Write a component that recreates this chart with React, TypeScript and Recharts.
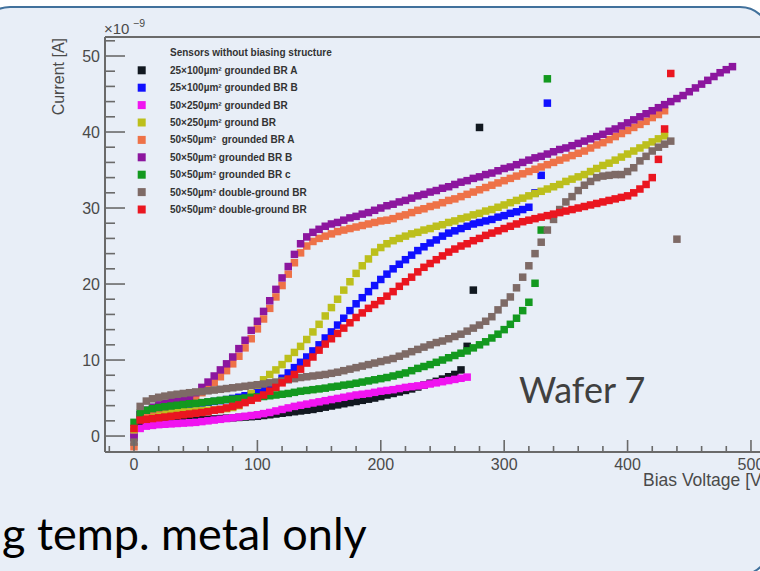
import React from "react"
import { ScatterChart, Scatter, XAxis, YAxis, ReferenceLine } from "recharts"

/* ── measurement grid (bias voltage, V) ── */
const VOLTS = [
  0, 5, 10, 15, 20, 25, 30, 35, 40, 45, 50, 55, 60, 65, 70, 75, 80, 85, 90, 95,
  100, 105, 110, 115, 120, 125, 130, 135, 140, 145, 150, 155, 160, 165, 170, 175, 180, 185, 190, 195,
  200, 205, 210, 215, 220, 225, 230, 235, 240, 245, 250, 255, 260, 265, 270, 275, 280, 285, 290, 295,
  300, 305, 310, 315, 320, 325, 330, 335, 340, 345, 350, 355, 360, 365, 370, 375, 380, 385, 390, 395,
  400, 405, 410, 415, 420, 425, 430, 435, 440, 445, 450, 455, 460, 465, 470, 475, 480, 485,
]

/* ── leakage current per sensor, x1e-9 A ── */
const I_BLACK = [
  0.3, 1.3, 1.5, 1.6, 1.7, 1.8, 1.85, 1.9, 2.0, 2.05,
  2.1, 2.15, 2.2, 2.25, 2.3, 2.35, 2.4, 2.45, 2.5, 2.55,
  2.6, 2.7, 2.8, 2.9, 3.0, 3.1, 3.2, 3.3, 3.4, 3.5,
  3.65, 3.8, 3.95, 4.1, 4.25, 4.4, 4.55, 4.7, 4.85, 5.0,
  5.2, 5.4, 5.6, 5.8, 6.0, 6.2, 6.45, 6.7, 6.95, 7.2,
  7.5, 7.8, 8.1, 8.7, 11.8, 19.2, 40.6,
]
const I_BLUE = [
  0.6, 2.8, 3.2, 3.4, 3.6, 3.7, 3.85, 3.95, 4.05, 4.15,
  4.25, 4.35, 4.45, 4.55, 4.65, 4.8, 4.95, 5.1, 5.3, 5.5,
  5.8, 6.1, 6.5, 7.0, 7.6, 8.3, 9.0, 9.7, 10.4, 11.2,
  12.0, 12.9, 13.7, 14.6, 15.5, 16.5, 17.4, 18.2, 19.0, 19.8,
  20.6, 21.3, 22.0, 22.6, 23.2, 23.8, 24.4, 24.9, 25.4, 25.8,
  26.3, 26.7, 27.0, 27.3, 27.6, 27.9, 28.1, 28.3, 28.5, 28.8,
  29.0, 29.3, 29.5, 29.8, 30.1, 32.0, 34.3, 43.8,
]
const I_MAGENTA = [
  0.1, 1.0, 1.3, 1.4, 1.5, 1.55, 1.6, 1.65, 1.7, 1.75,
  1.8, 1.9, 2.0, 2.1, 2.2, 2.3, 2.4, 2.5, 2.6, 2.7,
  2.8, 2.95, 3.1, 3.3, 3.5, 3.7, 3.9, 4.05, 4.2, 4.35,
  4.5, 4.65, 4.8, 4.95, 5.1, 5.25, 5.4, 5.5, 5.6, 5.75,
  5.9, 6.0, 6.1, 6.25, 6.4, 6.5, 6.6, 6.7, 6.85, 7.0,
  7.15, 7.3, 7.45, 7.6, 7.75,
]
const I_YELLOW = [
  0.8, 2.5, 2.8, 2.9, 3.0, 3.05, 3.1, 3.15, 3.2, 3.25,
  3.3, 3.35, 3.4, 3.45, 3.5, 3.6, 3.75, 4.0, 4.6, 5.6,
  6.7, 7.4, 8.1, 8.7, 9.4, 10.2, 11.0, 11.8, 12.7, 13.7,
  14.7, 15.8, 16.9, 18.0, 19.2, 20.3, 21.4, 22.4, 23.3, 24.2,
  24.8, 25.3, 25.7, 26.0, 26.3, 26.6, 26.8, 27.1, 27.3, 27.6,
  27.8, 28.1, 28.3, 28.6, 28.8, 29.1, 29.3, 29.6, 29.8, 30.1,
  30.4, 30.7, 31.0, 31.3, 31.6, 31.9, 32.2, 32.5, 32.8, 33.1,
  33.5, 33.8, 34.1, 34.4, 34.8, 35.2, 35.6, 35.9, 36.3, 36.7,
  37.1, 37.5, 37.9, 38.3, 38.7, 39.1, 39.5,
]
const I_ORANGE = [
  -1.4, 2.6, 3.1, 3.4, 3.6, 3.8, 4.0, 4.2, 4.5, 4.8,
  5.2, 5.7, 6.3, 7.0, 7.8, 8.6, 9.5, 10.5, 11.6, 12.8,
  14.1, 15.4, 16.8, 18.3, 19.8, 21.3, 22.8, 24.1, 25.0, 25.6,
  26.0, 26.3, 26.6, 26.9, 27.1, 27.3, 27.5, 27.7, 27.9, 28.1,
  28.3, 28.4, 28.6, 28.9, 29.1, 29.4, 29.7, 29.9, 30.2, 30.4,
  30.7, 31.0, 31.2, 31.5, 31.8, 32.1, 32.4, 32.7, 33.0, 33.3,
  33.6, 33.9, 34.2, 34.5, 34.8, 35.1, 35.4, 35.7, 36.0, 36.3,
  36.6, 36.9, 37.2, 37.5, 37.9, 38.3, 38.6, 39.0, 39.4, 39.8,
  40.2, 40.6, 41.0, 41.4, 41.9, 42.3, 42.8,
]
const I_PURPLE = [
  -0.2, 2.8, 3.4, 3.8, 4.1, 4.3, 4.5, 4.7, 4.9, 5.2,
  5.7, 6.4, 7.1, 7.9, 8.7, 9.5, 10.4, 11.5, 12.6, 13.9,
  15.1, 16.4, 17.8, 19.3, 20.8, 22.3, 23.9, 25.3, 26.2, 26.8,
  27.2, 27.6, 27.9, 28.1, 28.4, 28.7, 28.9, 29.2, 29.4, 29.7,
  30.0, 30.3, 30.5, 30.8, 31.0, 31.3, 31.6, 31.8, 32.1, 32.3,
  32.6, 32.8, 33.1, 33.4, 33.6, 33.9, 34.1, 34.4, 34.6, 34.9,
  35.2, 35.4, 35.7, 36.0, 36.3, 36.6, 36.8, 37.1, 37.4, 37.7,
  37.9, 38.2, 38.5, 38.8, 39.1, 39.4, 39.7, 40.1, 40.4, 40.8,
  41.2, 41.6, 42.0, 42.4, 42.8, 43.2, 43.6, 44.0, 44.4, 44.8,
  45.3, 45.8, 46.3, 46.8, 47.3, 47.8, 48.2, 48.6,
]
const I_GREEN = [
  1.8, 3.0, 3.4, 3.6, 3.75, 3.85, 3.95, 4.05, 4.15, 4.25,
  4.3, 4.4, 4.5, 4.6, 4.7, 4.8, 4.85, 4.9, 5.0, 5.1,
  5.15, 5.2, 5.3, 5.4, 5.5, 5.6, 5.75, 5.9, 6.0, 6.1,
  6.2, 6.3, 6.45, 6.55, 6.7, 6.8, 6.95, 7.1, 7.25, 7.4,
  7.55, 7.7, 7.9, 8.1, 8.3, 8.6, 8.9, 9.15, 9.4, 9.7,
  10.0, 10.3, 10.6, 10.9, 11.2, 11.6, 12.0, 12.4, 12.9, 13.4,
  14.0, 14.7, 15.5, 16.5, 17.6, 20.1, 27.1, 47.0,
]
const I_BROWN = [
  -0.8, 3.9, 4.6, 4.9, 5.1, 5.25, 5.4, 5.5, 5.6, 5.7,
  5.8, 5.85, 5.95, 6.05, 6.15, 6.25, 6.35, 6.45, 6.55, 6.65,
  6.75, 6.85, 7.0, 7.1, 7.25, 7.4, 7.55, 7.7, 7.8, 7.9,
  8.0, 8.1, 8.25, 8.4, 8.6, 8.8, 9.0, 9.2, 9.4, 9.6,
  9.8, 10.0, 10.2, 10.5, 10.8, 11.1, 11.4, 11.7, 12.0, 12.3,
  12.5, 12.8, 13.1, 13.4, 13.8, 14.2, 14.6, 15.1, 15.7, 16.6,
  17.5, 18.3, 19.5, 20.9, 22.4, 24.0, 25.5, 27.1, 28.5, 29.8,
  30.8, 31.5, 32.3, 33.0, 33.5, 34.0, 34.2, 34.3, 34.4, 34.4,
  34.8, 35.3, 36.2, 36.8, 37.5, 38.0, 38.4, 38.8, 25.9,
]
const I_RED = [
  1.0, 2.1, 2.2, 2.3, 2.4, 2.5, 2.6, 2.7, 2.8, 2.9,
  3.0, 3.1, 3.2, 3.4, 3.5, 3.7, 3.9, 4.1, 4.4, 4.7,
  5.0, 5.4, 5.9, 6.4, 7.0, 7.5, 8.1, 8.8, 9.6, 10.4,
  11.3, 12.1, 12.8, 13.5, 14.2, 14.9, 15.6, 16.2, 16.8, 17.3,
  17.8, 18.4, 19.0, 19.7, 20.3, 20.9, 21.6, 22.2, 22.7, 23.2,
  23.7, 24.2, 24.6, 25.0, 25.3, 25.7, 26.0, 26.4, 26.7, 27.0,
  27.3, 27.6, 27.9, 28.2, 28.4, 28.6, 28.8, 29.0, 29.2, 29.4,
  29.6, 29.8, 30.0, 30.2, 30.4, 30.6, 30.8, 31.0, 31.2, 31.4,
  31.6, 32.0, 32.5, 33.1, 34.0, 36.4, 40.4, 47.7,
]

const LEGEND_TITLE = "Sensors without biasing structure"
const LEGEND_LABELS = [
  "25×100µm² grounded BR A",
  "25×100µm² grounded BR B",
  "50×250µm² grounded BR",
  "50×250µm² ground BR",
  "50×50µm²  grounded BR A",
  "50×50µm² grounded BR B",
  "50×50µm² grounded BR c",
  "50×50µm² double-ground BR",
  "50×50µm² double-ground BR",
]
const COLORS = ["#111820", "#1010ff", "#f014f0", "#bcbf1c", "#ee7248", "#8c169e", "#13991f", "#7e6a66", "#ea1620"]
const CURRENTS = [I_BLACK, I_BLUE, I_MAGENTA, I_YELLOW, I_ORANGE, I_PURPLE, I_GREEN, I_BROWN, I_RED]

const X_TICKS = [-20, 0, 20, 40, 60, 80, 100, 120, 140, 160, 180, 200, 220, 240, 260, 280, 300, 320, 340, 360, 380, 400, 420, 440, 460, 480, 500]
const X_LABELS = [0, 100, 200, 300, 400, 500]
const Y_TICKS = [0, 2, 4, 6, 8, 10, 12, 14, 16, 18, 20, 22, 24, 26, 28, 30, 32, 34, 36, 38, 40, 42, 44, 46, 48, 50, 52]
const Y_LABELS = [0, 10, 20, 30, 40, 50]

/* ── layout ── */
const PLOT_LEFT = 105
const PLOT_TOP = 37
const PLOT_BOTTOM = 452
const Y_AXIS_W = 40
const X_AXIS_H = 30
const MARK = 7.5
const AXIS = "#6a6a6a"
const LABEL = "#4a4a4a"
const FONT = "'Liberation Sans', Arial, sans-serif"

const series = CURRENTS.map((vals, s) => ({
  color: COLORS[s],
  label: LEGEND_LABELS[s],
  data: vals.map((c, k) => ({ v: VOLTS[k], i: c })),
}))

const square = (color: string) => (p: any) =>
  <rect x={p.cx - MARK / 2} y={p.cy - MARK / 2} width={MARK} height={MARK} fill={color} />

function YTick({ y, payload }: any) {
  const major = Y_LABELS.includes(payload.value)
  return (
    <g>
      <line x1={PLOT_LEFT} x2={PLOT_LEFT + (major ? 20 : 10)} y1={y} y2={y} stroke={AXIS} strokeWidth={1.6} />
      {major && (
        <text x={PLOT_LEFT - 5} y={y + 6} textAnchor="end" fontSize={16} fill={LABEL} fontFamily={FONT}>
          {payload.value}
        </text>
      )}
    </g>
  )
}

function XTick({ x, payload }: any) {
  const major = X_LABELS.includes(payload.value)
  return (
    <g>
      <line x1={x} x2={x} y1={PLOT_BOTTOM} y2={PLOT_BOTTOM - (major ? 12 : 6)} stroke={AXIS} strokeWidth={1.6} />
      {major && (
        <text x={x} y={470} textAnchor="middle" fontSize={16} fill={LABEL} fontFamily={FONT}>
          {payload.value}
        </text>
      )}
    </g>
  )
}

export default function App() {
  return (
    <div style={{ position: "absolute", left: 0, top: 0, width: 760, height: 571, overflow: "hidden", background: "#fff" }}>
      <svg width={760} height={571} style={{ position: "absolute", left: 0, top: 0 }}>
        <rect x={-20} y={7} width={790} height={568} rx={30} fill="#e8eef7" stroke="#41719c" strokeWidth={2} />
      </svg>

      <div style={{ position: "absolute", left: 0, top: 0 }}>
        <ScatterChart
          width={780}
          height={571}
          margin={{ top: PLOT_TOP, right: 12, bottom: 571 - PLOT_BOTTOM - X_AXIS_H, left: PLOT_LEFT - Y_AXIS_W }}
        >
          <XAxis
            type="number"
            dataKey="v"
            domain={[-23.5, 513.8]}
            allowDataOverflow
            ticks={X_TICKS}
            interval={0}
            height={X_AXIS_H}
            tickLine={false}
            axisLine={{ stroke: AXIS, strokeWidth: 2 }}
            tick={<XTick />}
          />
          <YAxis
            type="number"
            dataKey="i"
            domain={[-2.1, 52.5]}
            allowDataOverflow
            ticks={Y_TICKS}
            interval={0}
            width={Y_AXIS_W}
            tickLine={false}
            axisLine={{ stroke: AXIS, strokeWidth: 2 }}
            tick={<YTick />}
          />
          <ReferenceLine y={52.5} stroke={AXIS} strokeWidth={2} />
          {series.map((s, k) => (
            <Scatter key={k} data={s.data} fill={s.color} shape={square(s.color)} isAnimationActive={false} />
          ))}
        </ScatterChart>
      </div>

      <svg width={760} height={571} style={{ position: "absolute", left: 0, top: 0, pointerEvents: "none" }}>
        {/* axis titles */}
        <text x={104} y={34} fontSize={15} fill={LABEL} fontFamily={FONT}>×10</text>
        <text x={133} y={27} fontSize={10.5} fill={LABEL} fontFamily={FONT}>−9</text>
        <text x={64} y={38} fontSize={16} fill={LABEL} fontFamily={FONT} textAnchor="end" transform="rotate(-90 64 38)">
          Current [A]
        </text>
        <text x={643} y={486} fontSize={17.5} fill={LABEL} fontFamily={FONT}>Bias Voltage [V]</text>

        {/* legend */}
        <text x={170} y={55.5} fontSize={10} fill="#333" fontWeight="bold" fontFamily={FONT}>{LEGEND_TITLE}</text>
        {series.map((s, k) => (
          <g key={k}>
            <rect x={137.7} y={66.3 + k * 17.4} width={8} height={8} fill={s.color} />
            <text x={170} y={73.8 + k * 17.4} fontSize={10} fill="#333" fontWeight="bold" fontFamily={FONT} style={{ whiteSpace: "pre" }}>
              {s.label}
            </text>
          </g>
        ))}

        {/* slide annotations */}
        <text x={519} y={403} fontSize={36} fill="#404040" fontFamily="Lato, 'Open Sans', sans-serif">Wafer 7</text>
        <text x={2} y={550} fontSize={45} fill="#000" fontFamily="Lato, 'Open Sans', sans-serif">g temp. metal only</text>
      </svg>
    </div>
  )
}
